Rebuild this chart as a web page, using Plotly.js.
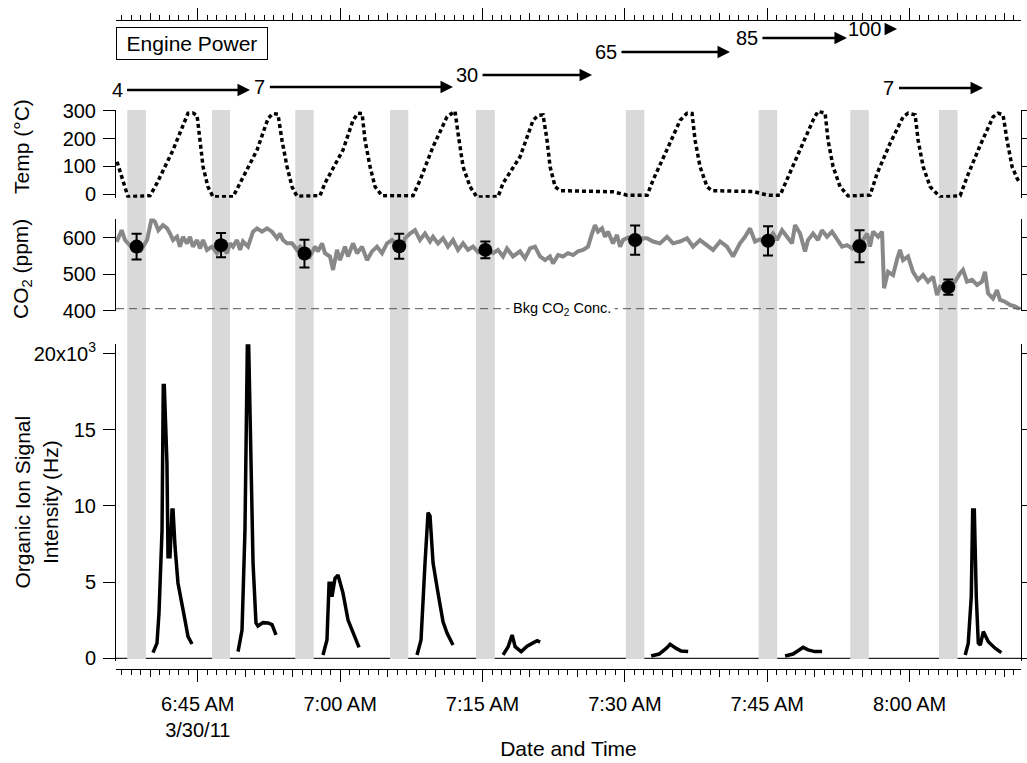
<!DOCTYPE html>
<html><head><meta charset="utf-8">
<script src="https://cdn.plot.ly/plotly-3.0.1.min.js"></script>
<style>html,body{margin:0;padding:0;background:#fff}</style>
</head><body><div id="chart" style="width:1027px;height:763px"></div>
<script>
// Time is expressed as minutes after midnight, 30 March 2011
const timeTickVals = [405, 420, 435, 450, 465, 480];
const timeTickText = ['6:45 AM<br>3/30/11', '7:00 AM', '7:15 AM', '7:30 AM', '7:45 AM', '8:00 AM'];

// Sampling windows (grey bands)
const bandStart = [397.57, 406.50, 415.27, 425.25, 434.31, 450.10, 464.10, 473.75, 483.10];
const bandEnd   = [399.53, 408.39, 417.21, 427.18, 436.29, 452.05, 466.05, 475.70, 485.05];

// Engine power steps: label position and arrow end
const powerLabel = ['4', '7', '30', '65', '85', '100', '7'];
const powerLabelTime = [396.49, 411.54, 433.37, 448.01, 462.86, 475.20, 477.83];
const powerEnd   = [410.50, 431.89, 446.54, 461.08, 473.40, 478.68, 487.74];

// Temperature (°C)
const tempTime = [396.49,397.64,399.96,400.70,402.39,403.65,403.97,404.49,404.92,405.23,405.55,406.07,406.60,408.71,409.45,411.24,412.40,412.92,413.45,413.87,414.40,414.93,415.45,417.88,418.40,420.30,421.36,421.88,422.31,422.62,423.15,423.68,424.41,427.68,428.42,429.79,431.26,432.10,432.42,432.95,433.69,434.42,436.64,437.17,438.96,440.33,440.86,441.38,441.80,442.12,442.65,443.18,448.76,450.24,452.35,452.98,454.46,455.83,456.55,457.08,457.40,457.92,458.66,459.19,463.51,464.99,466.36,467.09,468.46,469.83,470.36,471.10,471.41,471.94,472.68,473.52,475.84,476.58,477.95,479.32,479.85,480.59,480.90,481.43,482.17,483.22,485.33,486.06,487.43,488.80,489.33,489.85,490.27,490.80,491.33,491.62];
const tempC = [117,-9,-5,40,159,266,291,292,283,194,99,27,-9,-9,40,159,272,290,287,194,99,27,-7,-5,40,159,266,291,290,194,99,27,-5,-5,51,171,278,298,219,99,27,-10,-8,40,135,266,283,285,194,99,27,13,9,-3,-3,52,162,266,291,290,194,99,27,13,10,-3,-3,52,162,266,298,291,194,99,27,-6,-3,75,183,278,291,285,194,99,27,-10,-5,63,175,278,291,285,194,99,57,40];

// CO2 (ppm)
const co2Time = [396.45,396.98,397.33,397.86,398.38,398.91,399.65,400.14,400.49,400.84,401.33,401.75,402.07,402.39,402.81,403.12,403.44,403.86,404.18,404.49,404.92,405.23,405.55,405.97,406.50,407.02,407.55,408.08,408.39,408.71,409.13,409.45,409.76,410.29,410.82,411.24,411.77,412.29,412.82,413.35,413.66,413.98,414.40,414.93,415.45,415.77,416.30,416.82,417.35,417.67,418.09,418.40,418.93,419.25,419.67,419.98,420.51,420.83,421.35,421.78,422.30,422.83,423.36,423.88,424.41,424.94,425.46,425.99,426.52,426.83,427.36,427.89,428.41,428.94,429.47,429.78,430.31,430.84,431.36,431.89,432.42,432.95,433.47,434.00,434.53,435.05,435.58,436.11,436.63,437.16,437.58,438.21,438.95,439.48,440.01,440.53,441.06,441.59,442.11,442.43,442.96,443.48,444.01,444.54,445.06,445.59,446.12,446.54,446.85,447.17,447.59,447.91,448.22,448.75,449.17,449.49,449.81,450.33,450.86,451.39,451.91,452.33,452.97,453.70,454.44,455.07,455.81,456.55,457.18,457.92,458.66,459.29,460.03,460.76,461.40,462.13,462.66,463.19,463.71,464.24,464.77,465.30,465.61,466.03,466.56,467.09,467.61,467.93,468.46,468.98,469.30,469.83,470.35,470.77,471.30,471.83,472.36,472.88,473.41,473.94,474.46,475.10,475.52,475.83,476.15,476.68,477.10,477.31,477.73,478.26,478.68,478.99,479.31,479.84,480.36,480.89,481.42,481.94,482.47,482.89,483.21,483.74,484.26,484.79,485.32,485.63,486.05,486.58,487.11,487.63,487.95,488.27,488.79,489.21,489.53,490.06,490.58,491.11,491.64];
const co2Ppm = [588,620,593,578,585,560,593,652,643,620,634,626,611,593,602,575,602,584,602,575,593,570,593,566,575,557,575,557,584,575,593,566,589,575,616,625,616,625,616,598,611,593,584,584,566,575,560,548,575,562,584,557,548,511,566,538,575,548,584,557,575,538,562,575,557,584,593,580,570,598,611,620,593,611,589,602,584,598,575,593,566,584,566,575,560,570,565,557,566,548,570,548,562,543,570,575,548,538,548,529,552,548,557,552,562,566,575,611,634,616,625,602,616,584,607,575,593,600,590,585,598,598,589,584,602,584,589,598,575,593,579,566,589,575,548,584,602,625,589,595,585,600,611,593,620,602,584,634,611,562,593,611,593,620,602,616,593,575,579,570,590,593,611,575,616,602,616,461,506,497,540,566,538,548,506,484,497,479,493,442,465,460,470,479,502,511,479,484,470,479,506,447,433,456,429,424,415,411,404];

// Mean CO2 during each sampling window
const sampleTime = [398.55, 407.45, 416.24, 426.22, 435.30, 451.08, 465.08, 474.73, 484.08];
const sampleCO2  = [575, 579, 556, 576, 566, 593, 591, 576, 464];
const sampleErr  = [35, 33, 38, 34, 23, 40, 40, 44, 21];
const bkgCO2 = 405;

// Organic ion signal (Hz), one run per sampling window, null separates runs
const orgTime = [400.28,400.70,400.91,401.23,401.36,401.47,401.75,401.86,402.07,402.28,402.39,402.60,402.91,403.34,403.65,403.97,404.39,null,
  409.24,409.66,409.97,410.22,410.36,410.57,410.82,411.13,411.34,411.87,412.40,412.82,413.24,null,
  418.19,418.61,418.83,419.04,419.14,419.46,419.77,420.30,420.83,421.36,421.99,null,
  428.10,428.52,428.94,429.26,429.47,429.79,430.31,430.84,431.26,431.89,null,
  437.17,437.70,438.12,438.44,439.07,439.70,440.33,440.76,441.07,null,
  452.77,453.61,454.35,454.77,455.41,455.93,456.67,null,
  466.88,467.72,468.25,468.78,469.30,470.04,470.78,null,
  485.86,486.18,486.50,486.65,486.82,487.03,487.24,487.45,487.77,488.30,489.04,489.67];
const orgHz = [370,1000,2970,8400,17900,17900,12800,6670,6670,9730,9730,7320,4940,3370,2510,1420,940,null,
  440,1860,8420,20560,20560,12790,6250,2320,2120,2340,2320,2210,1530,null,
  220,1200,4920,4920,4040,5250,5460,4280,2510,1660,720,null,
  220,1200,6250,9560,9340,6250,4280,2400,1660,870,null,
  220,760,1530,760,440,800,1010,1150,1060,null,
  150,280,650,920,650,480,440,null,
  150,280,500,720,550,440,440,null,
  220,980,4040,9730,9730,4040,1000,870,1750,1090,650,370];
const orgTickVals = [0, 5000, 10000, 15000, 20000];
const orgTickText = ['0', '5', '10', '15', '20x10<sup>3</sup>'];

// ---------- layout geometry ----------
const X_RANGE = [396.38, 491.74];
const FONT = 'Liberation Sans, Arial, sans-serif';
const TICKF = {family: FONT, size: 20, color: '#000'};
const arrowRowY = [0.882, 0.886, 0.9017, 0.9318, 0.9502, 0.962, 0.8847];
const XPOS = 0.1228, XTOP = 0.9738;
const BAND_Y = [0.1363, 0.8558];

// baseline at zero, interrupted by bands
const baseX = [X_RANGE[0]], baseY = [0];
for (let i = 0; i < bandStart.length; i++) {
  baseX.push(bandStart[i], null, bandEnd[i]);
  baseY.push(0, null, 0);
}
baseX.push(X_RANGE[1]); baseY.push(0);

const traces = [
  {x: baseX, y: baseY, xaxis: 'x', yaxis: 'y3', mode: 'lines', line: {color: '#222', width: 1.2}, hoverinfo: 'skip'},
  {x: tempTime, y: tempC, xaxis: 'x', yaxis: 'y', mode: 'lines', line: {color: '#000', width: 3.5, dash: '4px,3px'}},
  {x: co2Time, y: co2Ppm, xaxis: 'x', yaxis: 'y2', mode: 'lines', line: {color: '#888', width: 4}},
  {x: sampleTime, y: sampleCO2, xaxis: 'x', yaxis: 'y2', mode: 'markers',
   marker: {size: 14, color: '#000'},
   error_y: {type: 'data', array: sampleErr, visible: true, color: '#000', thickness: 2, width: 5}},
  {x: orgTime, y: orgHz, xaxis: 'x', yaxis: 'y3', mode: 'lines', connectgaps: false, line: {color: '#000', width: 3.5}},
  // empty traces so overlay axes are drawn
  {x: [], y: [], xaxis: 'x2', yaxis: 'y3', hoverinfo: 'skip'},
  {x: [], y: [], xaxis: 'x3', yaxis: 'y', hoverinfo: 'skip'},
  {x: [], y: [], xaxis: 'x4', yaxis: 'y', hoverinfo: 'skip'},
  {x: [], y: [], xaxis: 'x', yaxis: 'y4', hoverinfo: 'skip'},
  {x: [], y: [], xaxis: 'x', yaxis: 'y5', hoverinfo: 'skip'},
  {x: [], y: [], xaxis: 'x', yaxis: 'y6', hoverinfo: 'skip'}
];

const base = {showgrid: false, zeroline: false, tickcolor: '#000', tickwidth: 1, linecolor: '#000', linewidth: 1, tickfont: TICKF};

const layout = {
  width: 1027, height: 763,
  margin: {l: 116, r: 6, t: 0, b: 0},
  paper_bgcolor: '#fff', plot_bgcolor: 'rgba(0,0,0,0)',
  showlegend: false,
  font: {family: FONT, color: '#000'},
  xaxis: Object.assign({}, base, {
    domain: [0, 1], range: X_RANGE, anchor: 'free', position: XPOS,
    showline: true, ticks: 'outside', ticklen: 12,
    tickmode: 'array', tickvals: timeTickVals, ticktext: timeTickText, ticklabelstandoff: 5,
    minor: {tickmode: 'linear', tick0: 0, dtick: 1, ticks: 'outside', ticklen: 5, tickcolor: '#000', tickwidth: 1, showgrid: false},
    title: {text: 'Date and Time', font: {family: FONT, size: 21}, standoff: 0}
  }),
  xaxis2: Object.assign({}, base, {
    overlaying: 'x', range: X_RANGE, anchor: 'free', position: XPOS,
    showline: false, ticks: 'outside', ticklen: 7, tickmode: 'linear', tick0: 0, dtick: 5, showticklabels: false
  }),
  xaxis3: Object.assign({}, base, {
    overlaying: 'x', side: 'top', range: X_RANGE, anchor: 'free', position: XTOP,
    showline: true, ticks: 'outside', ticklen: 12, tickmode: 'linear', tick0: 0, dtick: 15, showticklabels: false,
    minor: {tickmode: 'linear', tick0: 0, dtick: 1, ticks: 'outside', ticklen: 5, tickcolor: '#000', tickwidth: 1, showgrid: false}
  }),
  xaxis4: Object.assign({}, base, {
    overlaying: 'x', side: 'top', range: X_RANGE, anchor: 'free', position: XTOP,
    showline: false, ticks: 'outside', ticklen: 7, tickmode: 'linear', tick0: 0, dtick: 5, showticklabels: false
  }),
  yaxis: Object.assign({}, base, {
    domain: [0.74097, 0.85566], range: [-12, 302], anchor: 'x', showline: true,
    ticks: 'outside', ticklen: 12, tickmode: 'array', tickvals: [0, 100, 200, 300], ticklabelstandoff: 3
  }),
  yaxis2: Object.assign({}, base, {
    domain: [0.59305, 0.71360], range: [400, 652], anchor: 'x', showline: true,
    ticks: 'outside', ticklen: 12, tickmode: 'array', tickvals: [400, 500, 600], ticklabelstandoff: 3
  }),
  yaxis3: Object.assign({}, base, {
    domain: [0.13422, 0.54867], range: [-150, 20600], anchor: 'x', showline: true,
    ticks: 'outside', ticklen: 12, tickmode: 'array', tickvals: orgTickVals, ticktext: orgTickText, ticklabelstandoff: 3
  }),
  yaxis4: Object.assign({}, base, {
    overlaying: 'y', side: 'right', anchor: 'x', range: [-12, 302], showline: true,
    ticks: 'outside', ticklen: 6, tickmode: 'array', tickvals: [0, 100, 200, 300], showticklabels: false
  }),
  yaxis5: Object.assign({}, base, {
    overlaying: 'y2', side: 'right', anchor: 'x', range: [400, 652], showline: true,
    ticks: 'outside', ticklen: 6, tickmode: 'array', tickvals: [400, 500, 600], showticklabels: false
  }),
  yaxis6: Object.assign({}, base, {
    overlaying: 'y3', side: 'right', anchor: 'x', range: [-150, 20600], showline: true,
    ticks: 'outside', ticklen: 6, tickmode: 'array', tickvals: orgTickVals, showticklabels: false
  }),
  shapes: [],
  annotations: []
};

// grey sampling bands spanning all panels
for (let i = 0; i < bandStart.length; i++) {
  layout.shapes.push({type: 'rect', xref: 'x', yref: 'paper', x0: bandStart[i], x1: bandEnd[i],
    y0: BAND_Y[0], y1: BAND_Y[1], fillcolor: '#d9d9d9', line: {width: 0}, layer: 'below'});
}
// background CO2 dashed line
layout.shapes.push({type: 'line', xref: 'paper', yref: 'y2', x0: 0, x1: 1, y0: bkgCO2, y1: bkgCO2,
  line: {color: '#555', width: 1, dash: '8px,5px'}, layer: 'above'});

layout.annotations.push({xref: 'x', yref: 'y2', x: 443.38, y: bkgCO2, text: 'Bkg CO<sub>2</sub> Conc.',
  showarrow: false, bgcolor: '#fff', borderpad: 3, font: {family: FONT, size: 14.5, color: '#000'}});

// Engine power box
layout.annotations.push({xref: 'paper', yref: 'paper', x: 0, y: 0.943, xanchor: 'left', yanchor: 'middle',
  text: 'Engine Power', showarrow: false, bordercolor: '#000', borderwidth: 1, borderpad: 4, width: 142,
  font: {family: FONT, size: 21, color: '#000'}});

// engine power labels with arrows to the next step
for (let i = 0; i < powerLabel.length; i++) {
  layout.annotations.push({xref: 'x', yref: 'paper', axref: 'x', ayref: 'pixel',
    x: powerEnd[i], y: arrowRowY[i], ax: powerLabelTime[i], ay: 0, text: powerLabel[i], showarrow: true,
    borderpad: 4, arrowhead: 2, arrowsize: 1, arrowwidth: 2.5, arrowcolor: '#000', standoff: 0,
    font: {family: FONT, size: 20, color: '#000'}});
}

// y-axis titles
const yTitles = [
  {text: 'Temp (°C)', x: -0.1039, y: 0.8087},
  {text: 'CO<sub>2</sub> (ppm)', x: -0.1039, y: 0.6474},
  {text: 'Organic Ion Signal<br>Intensity (Hz)', x: -0.0878, y: 0.3420}
];
yTitles.forEach(t => layout.annotations.push({xref: 'paper', yref: 'paper', x: t.x, y: t.y, text: t.text,
  textangle: -90, showarrow: false, xanchor: 'center', yanchor: 'middle',
  font: {family: FONT, size: 21, color: '#000'}}));

Plotly.newPlot('chart', traces, layout, {displayModeBar: false, staticPlot: true}).then(gd => {
  // drop empty placeholder text nodes left by the library (untitled axes)
  gd.querySelectorAll('text').forEach(t => { if (!t.textContent.trim()) t.remove(); });
});
</script>
</body></html>
